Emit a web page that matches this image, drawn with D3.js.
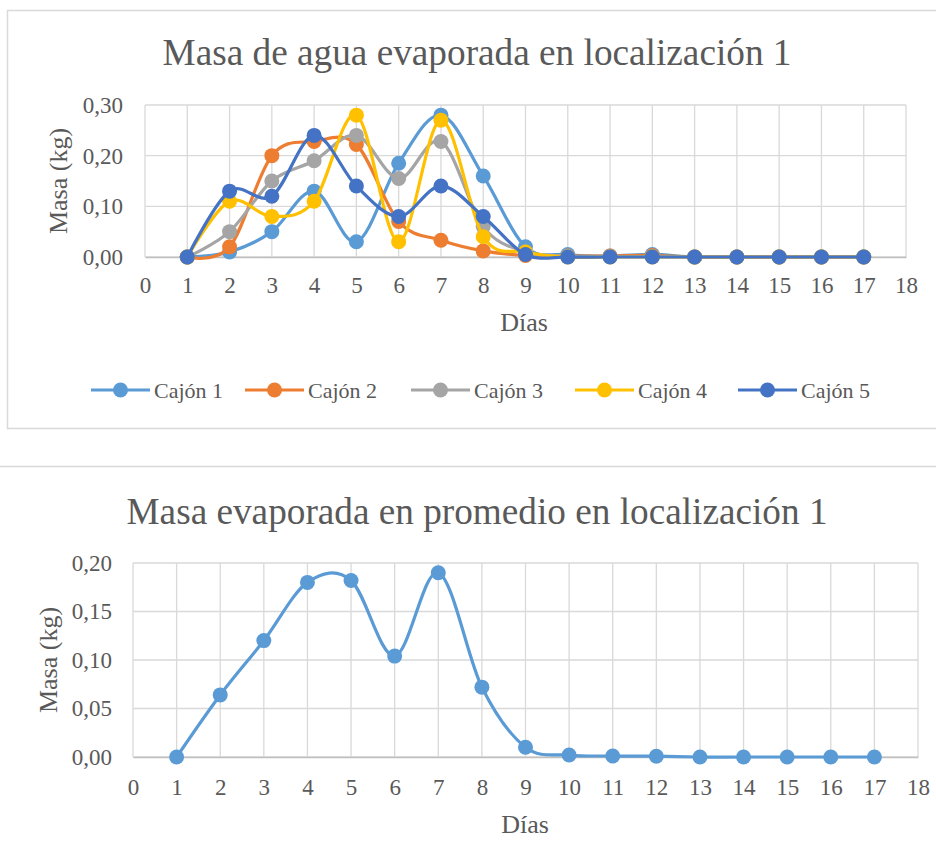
<!DOCTYPE html>
<html>
<head>
<meta charset="utf-8">
<script src="https://cdn.jsdelivr.net/npm/d3@7"></script>
<style>
  html, body { margin: 0; padding: 0; background: #fff; }
  svg { display: block; }
  text { font-family: "Liberation Serif", "Times New Roman", serif; fill: #595959; }
</style>
</head>
<body>
<svg id="chart" width="936" height="865"></svg>
<script>
// Days of measurement
const days = [1, 2, 3, 4, 5, 6, 7, 8, 9, 10, 11, 12, 13, 14, 15, 16, 17];

// Evaporated water mass (kg) per drawer, location 1
const cajon1 = [0, 0.010, 0.050, 0.130, 0.030, 0.185, 0.280, 0.160, 0.020, 0.005, 0.002, 0.005, 0, 0, 0, 0, 0];
const cajon2 = [0, 0.020, 0.200, 0.228, 0.222, 0.070, 0.033, 0.012, 0.003, 0.002, 0.002, 0.003, 0, 0, 0, 0, 0];
const cajon3 = [0, 0.050, 0.150, 0.190, 0.240, 0.155, 0.228, 0.060, 0.010, 0.002, 0.001, 0.001, 0, 0, 0, 0, 0];
const cajon4 = [0, 0.110, 0.080, 0.110, 0.280, 0.030, 0.270, 0.040, 0.010, 0, 0, 0, 0, 0, 0, 0, 0];
const cajon5 = [0, 0.130, 0.120, 0.240, 0.140, 0.080, 0.140, 0.080, 0.005, 0, 0, 0, 0, 0, 0, 0, 0];

// Average evaporated mass (kg)
const promedio = [0, 0.064, 0.120, 0.180, 0.182, 0.104, 0.190, 0.072, 0.010, 0.002, 0.001, 0.0008, 0, 0, 0, 0, 0];

const seriesNames = ["Cajón 1", "Cajón 2", "Cajón 3", "Cajón 4", "Cajón 5"];
const seriesColors = ["#5B9BD5", "#ED7D31", "#A5A5A5", "#FFC000", "#4472C4"];
const seriesValues = [cajon1, cajon2, cajon3, cajon4, cajon5];

const xTicks = d3.range(0, 19);
const yTicksTop = [0, 0.10, 0.20, 0.30];
const yTicksBottom = [0, 0.05, 0.10, 0.15, 0.20];

const fmt = v => v.toFixed(2).replace(".", ",");
const svg = d3.select("#chart");
const gridColor = "#d9d9d9";
const smooth = d3.curveCardinal.tension(0);

// Outer frames
svg.append("rect").attr("x", 7.5).attr("y", 10.5).attr("width", 940).attr("height", 418)
  .attr("fill", "none").attr("stroke", "#d9d9d9").attr("stroke-width", 1.5);
svg.append("line").attr("x1", 0).attr("x2", 936).attr("y1", 466.5).attr("y2", 466.5)
  .attr("stroke", "#d9d9d9").attr("stroke-width", 1.5);

function drawPanel(cfg) {
  const x = d3.scaleLinear().domain([0, 18]).range([cfg.left, cfg.right]);
  const y = d3.scaleLinear().domain([0, cfg.yMax]).range([cfg.bottom, cfg.top]);
  const g = svg.append("g");

  // Title
  g.append("text").attr("x", cfg.titleX).attr("y", cfg.titleY)
    .attr("text-anchor", "middle").attr("font-size", cfg.titleSize)
    .attr("textLength", cfg.titleLen).attr("lengthAdjust", "spacingAndGlyphs")
    .text(cfg.title);

  // Grid
  g.append("g").selectAll("line").data(xTicks).join("line")
    .attr("x1", d => x(d)).attr("x2", d => x(d))
    .attr("y1", cfg.top).attr("y2", cfg.bottom)
    .attr("stroke", gridColor).attr("stroke-width", 1.3);
  g.append("g").selectAll("line").data(cfg.yTicks).join("line")
    .attr("x1", cfg.left).attr("x2", cfg.right)
    .attr("y1", d => y(d)).attr("y2", d => y(d))
    .attr("stroke", gridColor).attr("stroke-width", 1.3);

  // Axes (labels only; lines come from grid)
  const xAxis = g.append("g").attr("transform", `translate(0,${cfg.bottom})`)
    .call(d3.axisBottom(x).tickValues(xTicks).tickSize(0).tickPadding(cfg.xPad).tickFormat(d3.format("d")));
  xAxis.select(".domain").attr("stroke", "#bfbfbf").attr("stroke-width", 1.3);
  xAxis.selectAll("text").attr("font-size", cfg.tickSize).attr("fill", "#595959");

  const yAxis = g.append("g").attr("transform", `translate(${cfg.left},0)`)
    .call(d3.axisLeft(y).tickValues(cfg.yTicks).tickSize(0).tickPadding(cfg.yPad).tickFormat(fmt));
  yAxis.select(".domain").remove();
  yAxis.selectAll("text").attr("font-size", cfg.tickSize).attr("fill", "#595959");

  // Axis titles
  g.append("text").attr("x", cfg.xTitleX).attr("y", cfg.xTitleY).attr("text-anchor", "middle")
    .attr("font-size", cfg.axisTitleSize).text("Días");
  g.append("text").attr("transform", `translate(${cfg.yTitleX},${cfg.yTitleY}) rotate(-90)`)
    .attr("text-anchor", "middle").attr("font-size", cfg.axisTitleSize).text("Masa (kg)");

  // Series
  const line = d3.line().x((d, i) => x(days[i])).y(d => y(d)).curve(smooth);
  cfg.series.forEach(s => {
    const sg = g.append("g");
    sg.append("path").datum(s.values).attr("d", line)
      .attr("fill", "none").attr("stroke", s.color).attr("stroke-width", 3.2)
      .attr("stroke-linejoin", "round").attr("stroke-linecap", "round");
    sg.selectAll("circle").data(s.values).join("circle")
      .attr("cx", (d, i) => x(days[i])).attr("cy", d => y(d))
      .attr("r", cfg.r).attr("fill", s.color);
  });
  return { x, y };
}

drawPanel({
  title: "Masa de agua evaporada en localización 1",
  titleX: 477, titleY: 65, titleSize: 38, titleLen: 629,
  left: 145, right: 906, top: 105, bottom: 257, yMax: 0.30,
  yTicks: yTicksTop, tickSize: 23, xPad: 20, yPad: 22, r: 7.5,
  xTitleX: 524, xTitleY: 331, yTitleX: 67, yTitleY: 181, axisTitleSize: 26,
  series: seriesValues.map((v, i) => ({ values: v, color: seriesColors[i] }))
});

drawPanel({
  title: "Masa evaporada en promedio en localización 1",
  titleX: 477, titleY: 524, titleSize: 38, titleLen: 701,
  left: 133, right: 918, top: 563, bottom: 757, yMax: 0.20,
  yTicks: yTicksBottom, tickSize: 23, xPad: 22, yPad: 21, r: 7.5,
  xTitleX: 525, xTitleY: 833, yTitleX: 57, yTitleY: 660, axisTitleSize: 26,
  series: [{ values: promedio, color: "#5B9BD5" }]
});

// Legend for the drawer series
const legendItems = [
  { name: seriesNames[0], color: seriesColors[0], x: 91 },
  { name: seriesNames[1], color: seriesColors[1], x: 245 },
  { name: seriesNames[2], color: seriesColors[2], x: 411 },
  { name: seriesNames[3], color: seriesColors[3], x: 575 },
  { name: seriesNames[4], color: seriesColors[4], x: 738 }
];
const lg = svg.append("g").selectAll("g").data(legendItems).join("g")
  .attr("transform", d => `translate(${d.x},390)`);
lg.append("line").attr("x1", 0).attr("x2", 59).attr("y1", 0).attr("y2", 0)
  .attr("stroke", d => d.color).attr("stroke-width", 3.2);
lg.append("circle").attr("cx", 29.5).attr("cy", 0).attr("r", 7.5).attr("fill", d => d.color);
lg.append("text").attr("x", 63).attr("y", 8).attr("font-size", 22).text(d => d.name);
</script>
</body>
</html>
